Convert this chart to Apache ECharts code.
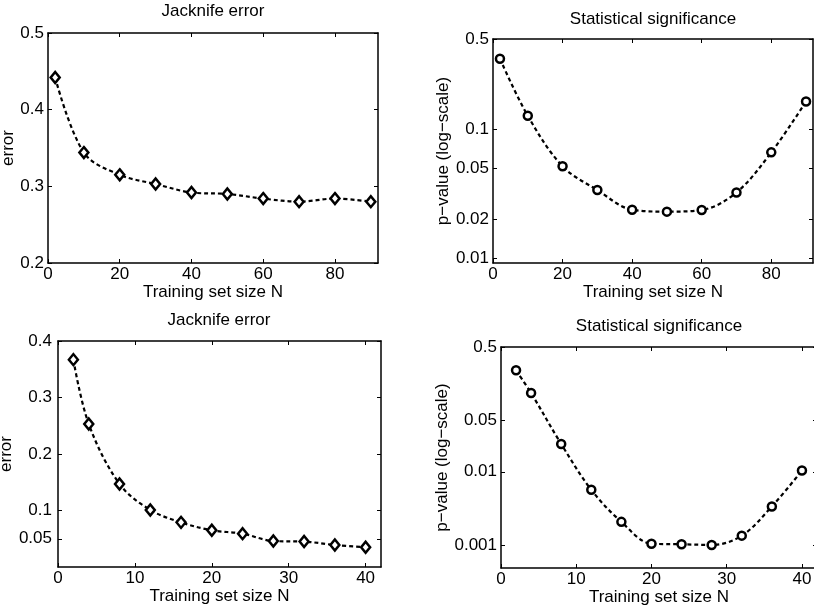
<!DOCTYPE html>
<html>
<head>
<meta charset="utf-8">
<script src="https://cdn.jsdelivr.net/npm/echarts@6/dist/echarts.min.js"></script>
<style>
html, body { margin: 0; padding: 0; background: #fff; }
#js-chart { width: 814px; height: 609px; }
</style>
</head>
<body>
<div id="js-chart"></div>
<script>
// training set sizes
var nTop = [2, 10, 20, 30, 40, 50, 60, 70, 80, 90];
var nBottom = [2, 4, 8, 12, 16, 20, 24, 28, 32, 36, 40];

// jacknife error
var errTop = [0.442, 0.344, 0.315, 0.303, 0.292, 0.290, 0.284, 0.280, 0.284, 0.280];
var errBottom = [0.367, 0.253, 0.147, 0.101, 0.079, 0.065, 0.059, 0.046, 0.045, 0.039, 0.035];

// p-values
var pTop = [0.352, 0.127, 0.0516, 0.0338, 0.0238, 0.0230, 0.0237, 0.0324, 0.0662, 0.164];
var pBottom = [0.241, 0.118, 0.0239, 0.00568, 0.00208, 0.00105, 0.00103, 0.00101, 0.00135, 0.00337, 0.0104];

// tick labels
var xTicksTop = [0, 20, 40, 60, 80];
var xTicksBottom = [0, 10, 20, 30, 40];
var errTicksTop = [0.2, 0.3, 0.4, 0.5];
var errTicksBottom = [0.05, 0.1, 0.2, 0.3, 0.4];
var pTicksTop = [0.01, 0.02, 0.05, 0.1, 0.5];
var pTicksBottom = [0.001, 0.01, 0.05, 0.5];

var FONT = "'Liberation Sans', Arial, sans-serif";

function pairs(xs, ys, log) {
	return xs.map(function(x, i){
		return [x, log ? Math.log10(ys[i]) : ys[i]];
	});
}

function tickLabel(ticks, log) {
	return function(v){
		for (var i = 0; i < ticks.length; i++) {
			var t = log ? Math.log10(ticks[i]) : ticks[i];
			if (Math.abs(t - v) < 1e-6) return String(ticks[i]);
		}
		return '';
	};
}

function xAxes(grid, max, ticks) {
	var common = {
		type: 'value', gridIndex: grid, min: 0, max: max,
		splitLine: {show: false},
		axisLine: {show: true, onZero: false, lineStyle: {color: '#000', width: 1.5}},
		axisTick: {show: true, inside: true, length: 4, customValues: ticks, lineStyle: {color: '#000', width: 1}}
	};
	var bottom = echarts.util.merge({
		position: 'bottom',
		name: 'Training set size N', nameLocation: 'middle', nameGap: 21,
		nameTextStyle: {color: '#000', fontSize: 17, fontFamily: FONT},
		axisLabel: {show: true, margin: 3, customValues: ticks, color: '#000', fontSize: 17, fontFamily: FONT}
	}, common, true);
	var top = echarts.util.merge({position: 'top', axisLabel: {show: false}}, common, true);
	return [bottom, top];
}

function yAxes(grid, min, max, ticks, log, name, gap, margin) {
	var vals = log ? ticks.map(Math.log10) : ticks;
	var common = {
		type: 'value', gridIndex: grid, min: min, max: max,
		splitLine: {show: false},
		axisLine: {show: true, onZero: false, lineStyle: {color: '#000', width: 1.5}},
		axisTick: {show: true, inside: true, length: 4, customValues: vals, lineStyle: {color: '#000', width: 1}}
	};
	var left = echarts.util.merge({
		position: 'left',
		name: name, nameLocation: 'middle', nameGap: gap,
		nameTextStyle: {color: '#000', fontSize: 17, fontFamily: FONT},
		axisLabel: {show: true, margin: margin, customValues: vals, formatter: tickLabel(ticks, log),
			color: '#000', fontSize: 17, fontFamily: FONT}
	}, common, true);
	var right = echarts.util.merge({position: 'right', axisLabel: {show: false}}, common, true);
	return [left, right];
}

function makeSeries(grid, data, symbol, size) {
	return {
		type: 'line', xAxisIndex: grid * 2, yAxisIndex: grid * 2,
		data: data, smooth: 0.35,
		symbol: symbol, symbolSize: size, showAllSymbol: true,
		lineStyle: {color: '#000', width: 2.2, type: [4, 3]},
		itemStyle: {color: '#fff', borderColor: '#000', borderWidth: 2.5},
		emphasis: {disabled: true},
		animation: false
	};
}

function makeTitle(text, x, y) {
	return {
		text: text, left: x, top: y, textAlign: 'center', padding: 0,
		textStyle: {color: '#000', fontSize: 17, fontWeight: 'normal', fontFamily: FONT}
	};
}

function initChart(){
	var chart = echarts.init(document.getElementById('js-chart'), null, {renderer: 'canvas'});
	var grids = [
		{left: 48, top: 33, width: 330, height: 230},
		{left: 493, top: 39, width: 320, height: 224},
		{left: 58, top: 341, width: 323, height: 226},
		{left: 501, top: 347, width: 316, height: 221}
	].map(function(g){
		g.containLabel = false;
		g.outerBoundsMode = 'none';
		return g;
	});

	var xs = [].concat(
		xAxes(0, 92, xTicksTop),
		xAxes(1, 92, xTicksTop),
		xAxes(2, 42, xTicksBottom),
		xAxes(3, 42, xTicksBottom)
	);
	var ys = [].concat(
		yAxes(0, 0.2, 0.5, errTicksTop, false, 'error', 28, 4),
		yAxes(1, Math.log10(0.0092), Math.log10(0.5), pTicksTop, true, 'p\u2212value (log\u2212scale)', 29, 4),
		yAxes(2, 0, 0.4, errTicksBottom, false, 'error', 41, 6),
		yAxes(3, -3.31, Math.log10(0.5), pTicksBottom, true, 'p\u2212value (log\u2212scale)', 40, 4)
	);

	var option = {
		animation: false,
		backgroundColor: '#fff',
		title: [
			makeTitle('Jacknife error', 213, 3),
			makeTitle('Statistical significance', 653, 11),
			makeTitle('Jacknife error', 219, 312),
			makeTitle('Statistical significance', 659, 318)
		],
		grid: grids,
		xAxis: xs,
		yAxis: ys,
		series: [
			makeSeries(0, pairs(nTop, errTop, false), 'diamond', [9, 11]),
			makeSeries(1, pairs(nTop, pTop, true), 'circle', 8),
			makeSeries(2, pairs(nBottom, errBottom, false), 'diamond', [9, 11]),
			makeSeries(3, pairs(nBottom, pBottom, true), 'circle', 8)
		]
	};
	chart.setOption(option);
}

initChart();
</script>
</body>
</html>
